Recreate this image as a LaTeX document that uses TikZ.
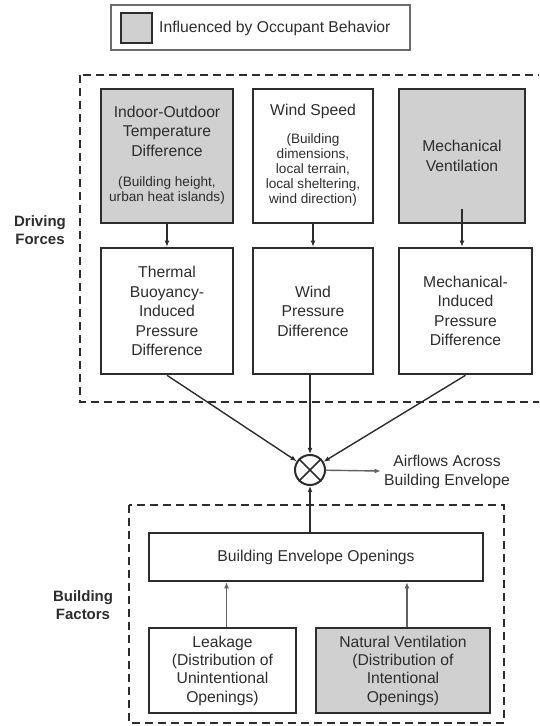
\documentclass[tikz,border=0pt]{standalone}
\usepackage{fontspec}
\setmainfont{Liberation Sans}
\usetikzlibrary{arrows.meta}

\definecolor{occgray}{RGB}{208,208,208}
\definecolor{ink}{RGB}{45,45,45}
\newcommand{\bigtxt}{\fontsize{15.7}{19.5}\selectfont}
\newcommand{\lowtxt}{\fontsize{15.7}{18.3}\selectfont}
\newcommand{\sidetxt}{\fontsize{15}{17.5}\selectfont\bfseries}
\newcommand{\paren}[1]{{\fontsize{13.6}{15}\selectfont\begin{tabular}[t]{@{}c@{}}#1\end{tabular}}}

\begin{document}
\begin{tikzpicture}
	[x=1pt, y=1pt,
	main/.style = {draw=ink, line width=2.6pt, align=center, inner sep=0pt, text=ink, font=\bigtxt},
	occ/.style = {main, fill=occgray},
	frame/.style = {draw=ink, line width=2.6pt, dash pattern=on 8pt off 5pt},
	flow/.style = {draw=ink, line width=1.4pt, -{Latex[length=6pt,width=5pt]}},
	soft/.style = {draw=ink!75, line width=1.4pt, -{Latex[length=6pt,width=5pt]}},
	side/.style = {align=center, text=ink, font=\sidetxt}]
	\useasboundingbox (0,0) rectangle (539,726);
	\clip (0,0) rectangle (539,726);
	% legend
	\node[draw=ink!70, line width=1.2pt, minimum width=299pt, minimum height=45pt] (key) at (260.5,698.5) {};
	\node[occ, minimum width=31pt, minimum height=30pt] (swatch) at (136.5,698) {};
	\node[anchor=west, text=ink, font=\bigtxt, inner sep=0pt] (keytext) at (159,698) {Influenced by Occupant Behavior};
	% driving forces
	\draw[frame] (80,651) rectangle (545,324);
	\node[side] (drive) at (40,496) {Driving\\Forces};
	\node[occ, minimum width=132pt, minimum height=134pt] (temp) at (167,570)
		{Indoor-Outdoor\\Temperature\\Difference\\[11pt]\paren{(Building height,\\urban heat islands)}};
	\node[main, minimum width=120pt, minimum height=134pt] (wind) [right of = temp, node distance={146pt}]
		{Wind Speed\\[9pt]\paren{(Building\\dimensions,\\local terrain,\\local sheltering,\\wind direction)}};
	\node[occ, minimum width=126pt, minimum height=134pt] (mech) [right of = wind, node distance={149pt}]
		{Mechanical\\Ventilation};
	\node[main, minimum width=132pt, minimum height=126pt] (buoy) [below of = temp, node distance={155pt}]
		{Thermal\\Buoyancy-\\Induced\\Pressure\\Difference};
	\node[main, minimum width=120pt, minimum height=126pt] (windp) [below of = wind, node distance={155pt}]
		{Wind\\Pressure\\Difference};
	\node[main, minimum width=133pt, minimum height=126pt] (mechp) [below of = mech, node distance={155pt}, xshift=3.5pt]
		{Mechanical-\\Induced\\Pressure\\Difference};
	% junction
	\node[circle, draw=ink, line width=2pt, minimum size=30pt, inner sep=0pt] (sum) [below of = windp, node distance={159pt}, xshift=-3pt] {};
	\draw[ink, line width=1.6pt] (sum.45) -- (sum.225) (sum.135) -- (sum.315);
	\node[align=center, text=ink, font=\lowtxt] (air) [right of = sum, node distance={137pt}, yshift=-2pt]
		{Airflows Across\\Building Envelope};
	% building factors
	\draw[frame] (129,221) rectangle (504,3);
	\node[side] (build) at (83,121) {Building\\Factors};
	\node[main, minimum width=334pt, minimum height=48pt] (beo) [below of = sum, node distance={87pt}, xshift=6pt]
		{Building Envelope Openings};
	\node[main, font=\lowtxt, minimum width=147pt, minimum height=85pt] (leak) at (222.5,55.5)
		{Leakage\\(Distribution of\\Unintentional\\Openings)};
	\node[occ, font=\lowtxt, minimum width=174pt, minimum height=85pt] (natv) [right of = leak, node distance={180.5pt}]
		{Natural Ventilation\\(Distribution of\\Intentional\\Openings)};
	\draw[flow] (temp) -- (buoy);
	\draw[flow] (wind) -- (windp);
	\draw[flow] ([yshift=15pt]mech.south) -- (mech.south |- mechp.north);
	\draw[flow] (buoy.south) -- (sum);
	\draw[flow] (sum |- windp.south) -- (sum);
	\draw[flow] (mechp.south) -- (sum);
	\draw[flow] (sum |- beo.north) -- (sum);
	\draw[soft] (sum) -- (air);
	\draw[soft] ([xshift=4pt]leak.north) -- ([xshift=4pt]leak.north |- beo.south);
	\draw[soft] ([xshift=4pt]natv.north) -- ([xshift=4pt]natv.north |- beo.south);
\end{tikzpicture}
\end{document}
